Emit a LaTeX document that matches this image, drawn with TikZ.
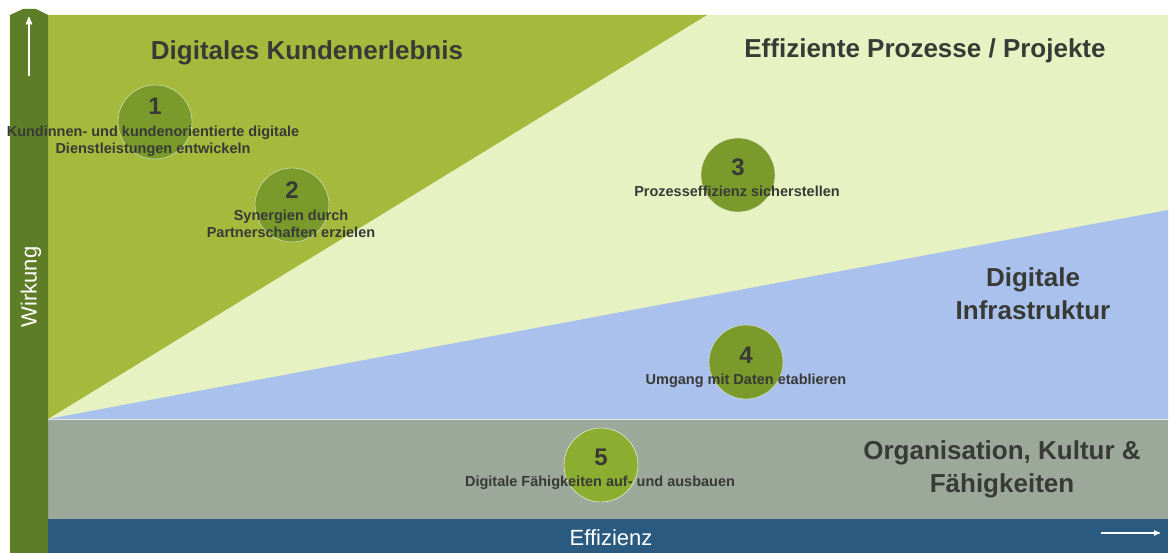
\documentclass[tikz,border=0pt]{standalone}
\usepackage{fontspec}
\setmainfont{Liberation Sans}
\usepackage{tikz}
\usetikzlibrary{arrows}
\usetikzlibrary{shapes}

\definecolor{barGreen}{HTML}{5E7D27}
\definecolor{kundeGreen}{HTML}{A5B93C}
\definecolor{paleGreen}{HTML}{E6F2C2}
\definecolor{infraBlue}{HTML}{A9C1EC}
\definecolor{orgGrey}{HTML}{9CA89A}
\definecolor{axisBlue}{HTML}{2B5A80}
\definecolor{dotGreen}{HTML}{7A9B2C}
\definecolor{dotLight}{HTML}{8BAD30}
\definecolor{labelGrey}{HTML}{383A36}

\begin{document}
\begin{tikzpicture}[x=1pt,y=-1pt,>=stealth',semithick]
\tikzstyle{every node}=[inner sep=0pt,align=center]
\tikzstyle{dot}=[circle,minimum size=74pt,fill=dotGreen,draw=white!80!dotGreen,thin]
\tikzstyle{num}=[font=\fontsize{24}{24}\selectfont\bfseries,text=labelGrey]
\tikzstyle{goal}=[font=\fontsize{14.5}{17}\selectfont\bfseries,text=labelGrey]
\tikzstyle{field}=[font=\fontsize{26}{33}\selectfont\bfseries,text=labelGrey]
\tikzstyle{axis}=[font=\fontsize{22}{22}\selectfont,text=white]

\useasboundingbox (0,0) rectangle (1170,553);

% fields
\fill[paleGreen] (48,15) rectangle (1168,419);
\fill[kundeGreen] (48,15) -- (707,15) -- (48,419) -- cycle;
\fill[infraBlue] (48,419) -- (1168,210) -- (1168,419) -- cycle;
\fill[orgGrey] (48,419) rectangle (1168,519);
\draw[white!70!orgGrey,line width=1pt] (48,419) -- (1168,419);
\fill[axisBlue] (48,519) rectangle (1168,553);
\fill[barGreen] (10,15) -- (23,9) -- (36,9) -- (48,15) -- (48,553) -- (10,553) -- cycle;

% axes
\coordinate (wbot) at (29,76);
\coordinate (wtop) at (29,17);
\coordinate (eleft) at (1101,533);
\coordinate (eright) at (1160,533);
\draw[->,white,line width=1.6pt] (wbot) -- (wtop);
\draw[->,white,line width=1.2pt] (eleft) -- (eright);
\node[axis,rotate=90] (wirkung) at (31,287) {Wirkung};
\node[axis] (effizienz) at (611,538) {Effizienz};

% fields titles
\node[field] (kunde) at (307,53) {Digitales Kundenerlebnis};
\node[field] (prozess) at (925,51) {Effiziente Prozesse / Projekte};
\node[field] (infra) at (1033,294) {Digitale\\Infrastruktur};
\node[field] (orga) at (1002,469) {Organisation, Kultur \&\\Fähigkeiten};

% goals
\path
node[dot] (c1) at (155,122) {}
(c1.center) ++ (0,-16) node[num] (n1) {1}
(c1.center) ++ (-2,19) node[goal] (t1) {Kundinnen- und kundenorientierte digitale\\Dienstleistungen entwickeln}
node[dot] (c2) at (292,205) {}
(c2.center) ++ (0,-15) node[num] (n2) {2}
(c2.center) ++ (-1,19) node[goal] (t2) {Synergien durch\\Partnerschaften erzielen}
node[dot] (c3) at (738,175) {}
(c3.center) ++ (0,-8) node[num] (n3) {3}
(c3.center) ++ (-1,16) node[goal] (t3) {Prozesseffizienz sicherstellen}
node[dot] (c4) at (746,362) {}
(c4.center) ++ (0,-7) node[num] (n4) {4}
(c4.center) ++ (0,19) node[goal] (t4) {Umgang mit Daten etablieren}
node[dot,fill=dotLight,draw=white] (c5) at (601,465) {}
(c5.center) ++ (0,-8) node[num] (n5) {5}
(c5.center) ++ (-1,18) node[goal] (t5) {Digitale Fähigkeiten auf- und ausbauen};
\end{tikzpicture}
\end{document}
